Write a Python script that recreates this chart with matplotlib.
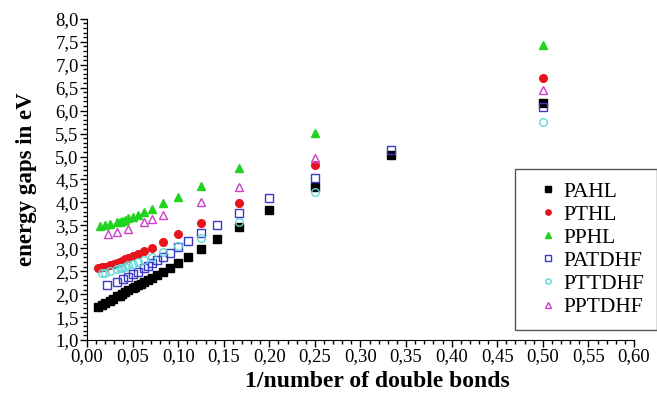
import matplotlib
matplotlib.use("Agg")
import matplotlib.pyplot as plt
from matplotlib.ticker import MultipleLocator, FuncFormatter
import numpy as np

# number of double bonds (x = 1/n) and energy gaps
PAHL_N = [2, 3, 4, 5, 6, 7, 8, 9, 10, 11, 12, 13, 14, 15, 16, 17, 18, 19, 20,
          22, 24, 26, 28, 30, 35, 40, 50, 60, 80]
PAHL_E = [6.17, 5.03, 4.34, 3.84, 3.46, 3.21, 2.99, 2.82, 2.68, 2.58, 2.49, 2.42,
          2.36, 2.31, 2.27, 2.23, 2.19, 2.16, 2.13, 2.08, 2.04, 2.00, 1.97, 1.95,
          1.90, 1.86, 1.80, 1.76, 1.72]

PTHL_N = [2, 4, 6, 8, 10, 12, 14, 16, 18, 20, 22, 24, 26, 28, 30, 34, 40, 50, 60, 80]
PTHL_E = [6.72, 4.82, 3.99, 3.56, 3.31, 3.14, 3.01, 2.94, 2.88, 2.83, 2.79, 2.76,
          2.73, 2.71, 2.69, 2.66, 2.63, 2.60, 2.59, 2.58]

PPHL_N = [2, 4, 6, 8, 10, 12, 14, 16, 18, 20, 22, 24, 26, 28, 30, 40, 50, 70]
PPHL_E = [7.42, 5.51, 4.75, 4.36, 4.12, 3.98, 3.86, 3.79, 3.72, 3.68, 3.65, 3.62,
          3.60, 3.58, 3.57, 3.53, 3.50, 3.48]

PATDHF_N = [2, 3, 4, 5, 6, 7, 8, 9, 10, 11, 12, 13, 14, 15, 16, 18, 20, 22, 25, 30, 45]
PATDHF_E = [6.08, 5.14, 4.53, 4.10, 3.77, 3.51, 3.33, 3.16, 3.03, 2.90, 2.81, 2.74,
            2.68, 2.62, 2.57, 2.49, 2.43, 2.38, 2.33, 2.27, 2.20]

PTTDHF_N = [2, 4, 6, 8, 10, 12, 14, 16, 18, 20, 22, 24, 26, 28, 30, 40, 50, 60]
PTTDHF_E = [5.75, 4.23, 3.58, 3.23, 3.04, 2.91, 2.82, 2.75, 2.70, 2.66, 2.63, 2.60,
            2.58, 2.56, 2.55, 2.50, 2.47, 2.46]

PPTDHF_N = [2, 4, 6, 8, 12, 14, 16, 22, 30, 44]
PPTDHF_E = [6.46, 4.97, 4.34, 4.01, 3.72, 3.63, 3.57, 3.42, 3.36, 3.31]

SERIES = [
    ("PAHL", PAHL_N, PAHL_E, dict(marker="s", color="black", mfc="black")),
    ("PTHL", PTHL_N, PTHL_E, dict(marker="o", color="#e8141c", mfc="#e8141c")),
    ("PPHL", PPHL_N, PPHL_E, dict(marker="^", color="#1fd41f", mfc="#1fd41f")),
    ("PATDHF", PATDHF_N, PATDHF_E, dict(marker="s", color="#3a3ac8", mfc="none")),
    ("PTTDHF", PTTDHF_N, PTTDHF_E, dict(marker="o", color="#5fd8d8", mfc="none")),
    ("PPTDHF", PPTDHF_N, PPTDHF_E, dict(marker="^", color="#cc3fcc", mfc="none")),
]

plt.rcParams["font.family"] = ["Liberation Serif", "DejaVu Serif"]

fig = plt.figure(figsize=(6.57, 4.01), dpi=100)
ax = fig.add_axes([0.1324, 0.152, 0.8326, 0.801])

for name, n, e, style in SERIES:
    x = 1.0 / np.asarray(n, dtype=float)
    ax.plot(x, e, linestyle="none", markersize=5.5, markeredgewidth=1.0,
            label=name, **style)

ax.set_xlim(0, 0.60)
ax.set_ylim(1.0, 8.0)
ax.xaxis.set_major_locator(MultipleLocator(0.05))
ax.xaxis.set_minor_locator(MultipleLocator(0.01))
ax.yaxis.set_major_locator(MultipleLocator(0.5))
ax.yaxis.set_minor_locator(MultipleLocator(0.1))
ax.xaxis.set_major_formatter(FuncFormatter(lambda v, p: f"{v:.2f}".replace(".", ",")))
ax.yaxis.set_major_formatter(FuncFormatter(lambda v, p: f"{v:.1f}".replace(".", ",")))
ax.tick_params(which="major", direction="out", length=5, width=1, labelsize=13.5, pad=1)
ax.tick_params(which="minor", direction="out", length=3, width=1)
for s in ("top", "right"):
    ax.spines[s].set_visible(False)

ax.set_xlabel("1/number of double bonds", fontsize=17, fontweight="bold")
ax.xaxis.set_label_coords(0.53, -0.097)
ax.set_ylabel("energy gaps in eV", fontsize=16.5, fontweight="bold", labelpad=13)

leg = ax.legend(loc="lower right", bbox_to_anchor=(1.0, 0.177),
                bbox_transform=fig.transFigure, fontsize=15.5, markerscale=0.7,
                handlelength=1.86, handletextpad=-0.23, labelspacing=0.14,
                borderpad=0.6, borderaxespad=0, fancybox=False,
                edgecolor="#555555", framealpha=1)
leg.get_frame().set_linewidth(1.0)

fig.savefig("out.png", dpi=100)
